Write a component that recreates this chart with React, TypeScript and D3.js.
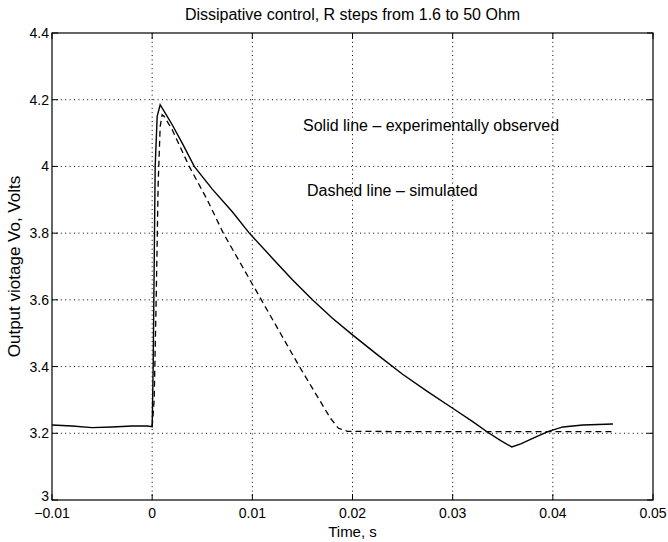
import { useEffect, useRef } from 'react';
import * as d3 from 'd3';

// experimental trace (solid)
const solidTime = [
  -0.01, -0.008, -0.006, -0.004, -0.002, -0.0005, 0, 0.0001, 0.0002, 0.0003, 0.0005, 0.0008,
  0.0015, 0.002, 0.003, 0.0042, 0.006, 0.008, 0.0097, 0.012, 0.014, 0.016, 0.018, 0.02,
  0.0225, 0.025, 0.0275, 0.03, 0.032, 0.0335, 0.0348, 0.0359, 0.0368, 0.0381, 0.0395, 0.041,
  0.043, 0.046,
];
const solidVolts = [
  3.225, 3.222, 3.217, 3.219, 3.222, 3.222, 3.22, 3.4, 3.7, 4.0, 4.15, 4.185,
  4.15, 4.125, 4.07, 4.0, 3.932, 3.864, 3.8, 3.725, 3.66, 3.6, 3.545, 3.495,
  3.435, 3.377, 3.325, 3.275, 3.235, 3.203, 3.178, 3.159, 3.168, 3.186, 3.205, 3.219,
  3.225, 3.228,
];

// simulated trace (dashed)
const dashTime = [
  0, 0.0002, 0.0004, 0.0006, 0.0008, 0.001, 0.0012, 0.002, 0.0037, 0.0055, 0.0071, 0.009,
  0.0109, 0.0128, 0.0147, 0.0165, 0.0178, 0.0186, 0.0195, 0.025, 0.046,
];
const dashVolts = [
  3.22, 3.3, 3.6, 3.95, 4.12, 4.155, 4.15, 4.11, 4.0, 3.9, 3.8, 3.7,
  3.6, 3.5, 3.4, 3.31, 3.245, 3.215, 3.206, 3.205, 3.205,
];

const xTicks = [-0.01, 0, 0.01, 0.02, 0.03, 0.04, 0.05];
const xTickLabels = ['\u22120.01', '0', '0.01', '0.02', '0.03', '0.04', '0.05'];
const yTicks = [3, 3.2, 3.4, 3.6, 3.8, 4, 4.2, 4.4];
const yTickLabels = ['3', '3.2', '3.4', '3.6', '3.8', '4', '4.2', '4.4'];

const App = () => {
  const svgRef = useRef(null);

  useEffect(() => {
    const svg = d3.select(svgRef.current);
    svg.selectAll('*').remove();

    const W = 668, H = 542;
    const margin = { top: 33, right: 15, bottom: 42, left: 52 };
    const font = '"Liberation Sans", Arial, Helvetica, sans-serif';

    svg.attr('width', W).attr('height', H).style('font-family', font);

    const x = d3.scaleLinear().domain([-0.01, 0.05]).range([margin.left, W - margin.right]);
    const y = d3.scaleLinear().domain([3, 4.4]).range([H - margin.bottom, margin.top]);

    // dotted grid
    const grid = svg.append('g')
      .attr('stroke', '#000')
      .attr('stroke-width', 1)
      .attr('stroke-dasharray', '1,3.4');
    xTicks.slice(1, -1).forEach(t => {
      grid.append('line')
        .attr('x1', x(t)).attr('x2', x(t))
        .attr('y1', y(4.4)).attr('y2', y(3));
    });
    yTicks.slice(1, -1).forEach(v => {
      grid.append('line')
        .attr('x1', x(-0.01)).attr('x2', x(0.05))
        .attr('y1', y(v)).attr('y2', y(v));
    });

    // frame
    svg.append('rect')
      .attr('x', x(-0.01)).attr('y', y(4.4))
      .attr('width', x(0.05) - x(-0.01))
      .attr('height', y(3) - y(4.4))
      .attr('fill', 'none')
      .attr('stroke', '#000')
      .attr('stroke-width', 1.2);

    // inward ticks
    const tk = svg.append('g').attr('stroke', '#000').attr('stroke-width', 1);
    xTicks.forEach(t => {
      tk.append('line').attr('x1', x(t)).attr('x2', x(t)).attr('y1', y(3)).attr('y2', y(3) - 6);
      tk.append('line').attr('x1', x(t)).attr('x2', x(t)).attr('y1', y(4.4)).attr('y2', y(4.4) + 6);
    });
    yTicks.forEach(v => {
      tk.append('line').attr('x1', x(-0.01)).attr('x2', x(-0.01) + 6).attr('y1', y(v)).attr('y2', y(v));
      tk.append('line').attr('x1', x(0.05)).attr('x2', x(0.05) - 6).attr('y1', y(v)).attr('y2', y(v));
    });

    // tick labels
    xTicks.forEach((t, i) => {
      svg.append('text')
        .attr('x', x(t)).attr('y', y(3) + 18)
        .attr('text-anchor', 'middle')
        .style('font-size', '14px')
        .text(xTickLabels[i]);
    });
    yTicks.forEach((v, i) => {
      // bottom label sits a little higher so it clears the -0.01 label
      svg.append('text')
        .attr('x', x(-0.01) - 3).attr('y', y(v) + (i === 0 ? 1 : 5))
        .attr('text-anchor', 'end')
        .style('font-size', '14px')
        .text(yTickLabels[i]);
    });

    // simulated
    svg.append('path')
      .datum(dashTime.map((t, i) => [t, dashVolts[i]]))
      .attr('d', d3.line().x(d => x(d[0])).y(d => y(d[1])))
      .attr('fill', 'none')
      .attr('stroke', '#000')
      .attr('stroke-width', 1.3)
      .attr('stroke-dasharray', '6,4');

    // experimental
    svg.append('path')
      .datum(solidTime.map((t, i) => [t, solidVolts[i]]))
      .attr('d', d3.line().x(d => x(d[0])).y(d => y(d[1])))
      .attr('fill', 'none')
      .attr('stroke', '#000')
      .attr('stroke-width', 1.4);

    // annotations
    svg.append('text')
      .attr('x', 303).attr('y', y(4.2) + 31)
      .style('font-size', '16px')
      .text('Solid line \u2013 experimentally observed');
    svg.append('text')
      .attr('x', 307).attr('y', y(4) + 30)
      .style('font-size', '16px')
      .text('Dashed line \u2013 simulated');

    // title and axis labels
    svg.append('text')
      .attr('x', (x(-0.01) + x(0.05)) / 2).attr('y', 20)
      .attr('text-anchor', 'middle')
      .style('font-size', '16px')
      .text('Dissipative control, R steps from 1.6 to 50 Ohm');
    svg.append('text')
      .attr('x', (x(-0.01) + x(0.05)) / 2).attr('y', y(3) + 37)
      .attr('text-anchor', 'middle')
      .style('font-size', '15px')
      .text('Time, s');
    svg.append('text')
      .attr('transform', `translate(20,${(y(3) + y(4.4)) / 2}) rotate(-90)`)
      .attr('text-anchor', 'middle')
      .style('font-size', '17px')
      .text('Output viotage Vo, Volts');
  }, []);

  return (
    <svg ref={svgRef} style={{ position: 'absolute', left: 0, top: 0, background: '#fff' }}></svg>
  );
};

export default App;
